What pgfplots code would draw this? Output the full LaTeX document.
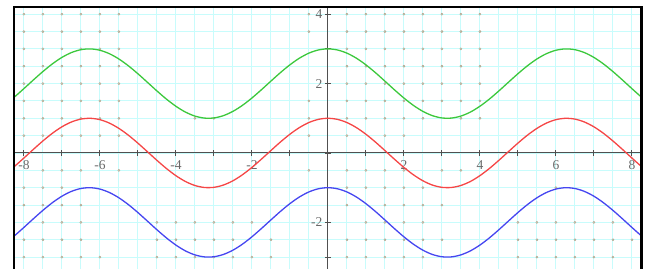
\documentclass[border=0pt]{standalone}
\usepackage{pgfplots}
\usepackage{pgfplotstable}
\pgfplotsset{compat=1.18}
\usepackage{fontspec}
\setmainfont{Liberation Serif}
\definecolor{gridc}{RGB}{200,252,252}
\definecolor{cg}{RGB}{60,200,60}
\definecolor{cr}{RGB}{245,70,70}
\definecolor{cb}{RGB}{70,70,240}
\definecolor{dotc}{RGB}{175,165,140}
\definecolor{axc}{RGB}{80,80,80}
\definecolor{labc}{RGB}{105,105,105}
\pgfplotstableread{
x g r b
-8.5 1.3980 -0.6020 -2.6020
-8.25 1.6122 -0.3878 -2.3878
-8 1.8545 -0.1455 -2.1455
-7.75 2.1045 0.1045 -1.8955
-7.5 2.3466 0.3466 -1.6534
-7.25 2.5679 0.5679 -1.4321
-7 2.7539 0.7539 -1.2461
-6.75 2.8931 0.8931 -1.1069
-6.5 2.9766 0.9766 -1.0234
-6.25 2.9994 0.9994 -1.0006
-6 2.9602 0.9602 -1.0398
-5.75 2.8612 0.8612 -1.1388
-5.5 2.7087 0.7087 -1.2913
-5.25 2.5123 0.5123 -1.4877
-5 2.2837 0.2837 -1.7163
-4.75 2.0376 0.0376 -1.9624
-4.5 1.7892 -0.2108 -2.2108
-4.25 1.5539 -0.4461 -2.4461
-4 1.3464 -0.6536 -2.6536
-3.75 1.1794 -0.8206 -2.8206
-3.5 1.0635 -0.9365 -2.9365
-3.25 1.0059 -0.9941 -2.9941
-3 1.0100 -0.9900 -2.9900
-2.75 1.0757 -0.9243 -2.9243
-2.5 1.1989 -0.8011 -2.8011
-2.25 1.3718 -0.6282 -2.6282
-2 1.5839 -0.4161 -2.4161
-1.75 1.8218 -0.1782 -2.1782
-1.5 2.0707 0.0707 -1.9293
-1.25 2.3153 0.3153 -1.6847
-1 2.5403 0.5403 -1.4597
-0.75 2.7317 0.7317 -1.2683
-0.5 2.8776 0.8776 -1.1224
-0.25 2.9689 0.9689 -1.0311
0 3 1 -1
0.25 2.9689 0.9689 -1.0311
0.5 2.8776 0.8776 -1.1224
0.75 2.7317 0.7317 -1.2683
1 2.5403 0.5403 -1.4597
1.25 2.3153 0.3153 -1.6847
1.5 2.0707 0.0707 -1.9293
1.75 1.8218 -0.1782 -2.1782
2 1.5839 -0.4161 -2.4161
2.25 1.3718 -0.6282 -2.6282
2.5 1.1989 -0.8011 -2.8011
2.75 1.0757 -0.9243 -2.9243
3 1.0100 -0.9900 -2.9900
3.25 1.0059 -0.9941 -2.9941
3.5 1.0635 -0.9365 -2.9365
3.75 1.1794 -0.8206 -2.8206
4 1.3464 -0.6536 -2.6536
4.25 1.5539 -0.4461 -2.4461
4.5 1.7892 -0.2108 -2.2108
4.75 2.0376 0.0376 -1.9624
5 2.2837 0.2837 -1.7163
5.25 2.5123 0.5123 -1.4877
5.5 2.7087 0.7087 -1.2913
5.75 2.8612 0.8612 -1.1388
6 2.9602 0.9602 -1.0398
6.25 2.9994 0.9994 -1.0006
6.5 2.9766 0.9766 -1.0234
6.75 2.8931 0.8931 -1.1069
7 2.7539 0.7539 -1.2461
7.25 2.5679 0.5679 -1.4321
7.5 2.3466 0.3466 -1.6534
7.75 2.1045 0.1045 -1.8955
8 1.8545 -0.1455 -2.1455
8.25 1.6122 -0.3878 -2.3878
8.5 1.3980 -0.6020 -2.6020
}\curves
\begin{document}
\begin{tikzpicture}
\begin{axis}[
  name=ax,
  scale only axis, width=627.4pt, height=262pt,
  xmin=-8.26, xmax=8.25, ymin=-3.343, ymax=4.207,
  axis lines=middle,
  axis line style={-, draw=axc, line width=1pt},
  hide obscured x ticks=false, hide obscured y ticks=false,
  xtick={-8,...,8}, ytick={-3,...,4},
  xticklabels={-8,,-6,,-4,,-2,,,,2,,4,,6,,8},
  yticklabels={,-2,,,,2,,4},
  minor x tick num=1, minor y tick num=1,
  grid=both,
  major grid style={draw=gridc, line width=0.9pt},
  minor grid style={draw=gridc, line width=0.9pt},
  major tick length=6pt, minor tick length=0pt,
  tick align=center,
  tick style={draw=axc, line width=0.9pt},
  ticklabel style={font=\fontsize{13.5}{14}\selectfont, text=labc},
  xticklabel style={yshift=-1pt},
  yticklabel style={xshift=1pt},
  clip mode=individual,
]
\addplot[only marks, mark=*, mark size=1.1pt, draw=dotc, fill=dotc!55] coordinates {
(-8,4)(-7.5,4)(-7,4)(-6.5,4)(-6,4)(-5.5,4)
(-8,3.5)(-7.5,3.5)(-7,3.5)(-6.5,3.5)(-6,3.5)(-5.5,3.5)
(-8,3)(-7.5,3)(-7,3)(-6.5,3)(-6,3)(-5.5,3)
(-8,2.5)(-7.5,2.5)(-7,2.5)(-6.5,2.5)(-6,2.5)(-5.5,2.5)
(-8,2)(-7.5,2)(-7,2)(-6.5,2)(-6,2)(-5.5,2)
(-8,1.5)(-7.5,1.5)(-7,1.5)(-6.5,1.5)(-6,1.5)(-5.5,1.5)
(-8,1)(-7.5,1)(-7,1)(-6.5,1)(-6,1)(-5.5,1)
(-8,0.5)(-7.5,0.5)(-7,0.5)(-6.5,0.5)(-6,0.5)(-5.5,0.5)
(-7.5,-0.5)(-7,-0.5)(-6.5,-0.5)(-5.5,-0.5)
(-8,-1)(-7.5,-1)(-7,-1)
(-8,-1.5)(-7.5,-1.5)(-7,-1.5)(-6.5,-1.5)
(-7.5,-2)(-7,-2)(-6.5,-2)
(-8,-2.5)(-7.5,-2.5)(-7,-2.5)(-6.5,-2.5)
(-8,-3)(-7.5,-3)(-7,-3)(-6.5,-3)(-6,-3)
(-4.5,-2)(-4,-2)(-3.5,-2)(-3,-2)
(-4.5,-2.5)(-4,-2.5)(-3.5,-2.5)(-3,-2.5)
(-4.5,-3)(-4,-3)(-3.5,-3)(-3,-3)
(-3.5,1)(-3,1)
(-2.5,-2)(-2,-2)
(-2.5,-2.5)(-1.5,-2.5)
(-2.5,-3)(-2,-3)(-1.5,-3)
(-0.5,4)(0.5,4)(1,4)(1.5,4)(2,4)(2.5,4)
(-0.5,3.5)(0.5,3.5)(1,3.5)(1.5,3.5)(2,3.5)(2.5,3.5)
(0.5,3)(1,3)(1.5,3)(2,3)(2.5,3)
(0.5,2.5)(1,2.5)(1.5,2.5)(2,2.5)(2.5,2.5)
(0.5,2)(1,2)(1.5,2)(2,2)(2.5,2)
(-0.5,1.5)(0.5,1.5)(1,1.5)(1.5,1.5)(2,1.5)(2.5,1.5)
(-0.5,1)(0.5,1)(1,1)(1.5,1)(2,1)(2.5,1)
(-0.5,0.5)(0.5,0.5)(1.5,0.5)(2,0.5)
(-0.5,-0.5)(0.5,-0.5)(1,-0.5)(1.5,-0.5)(2,-0.5)(3,-0.5)(3.5,-0.5)
(0.5,-1)(1,-1)(1.5,-1)(2,-1)(2.5,-1)
(0.5,-1.5)(1.5,-1.5)(2,-1.5)(2.5,-1.5)(3,-1.5)
(1,-2)(1.5,-2)(2,-2)(2.5,-2)
(0.5,-2.5)(1,-2.5)(1.5,-2.5)(2,-2.5)(2.5,-2.5)(3,-2.5)
(0.5,-3)(1,-3)(1.5,-3)(2,-3)(2.5,-3)
(3,4)(3.5,4)(4,4)
(3,3.5)(3.5,3.5)(4,3.5)
(3,3)(3.5,3)(4,3)
(3,2.5)(3.5,2.5)(4,2.5)
(3,2)(3.5,2)(4,2)
(3,1.5)(3.5,1.5)(4,1.5)
(3.5,1)(4,1)
(5,-2)(5.5,-2)(6,-2)(6.5,-2)(7,-2)(7.5,-2)
(5,-2.5)(5.5,-2.5)(6,-2.5)(6.5,-2.5)(7,-2.5)(7.5,-2.5)(8,-2.5)
(5,-3)(5.5,-3)(6,-3)(6.5,-3)(7,-3)(7.5,-3)
(6,-1)
};
\addplot[cg, line width=1.3pt, smooth] table[x=x, y=g] {\curves};
\addplot[cr, line width=1.3pt, smooth] table[x=x, y=r] {\curves};
\addplot[cb, line width=1.3pt, smooth] table[x=x, y=b] {\curves};
\draw[black, line width=2.2pt] (rel axis cs:0,0) -- (rel axis cs:0,1) -- (rel axis cs:1,1) -- (rel axis cs:1,0);
\end{axis}
\pgfresetboundingbox
\path[use as bounding box] ([xshift=-14pt]ax.south west) rectangle ([xshift=3.6pt, yshift=7pt]ax.north east);
\end{tikzpicture}
\end{document}
